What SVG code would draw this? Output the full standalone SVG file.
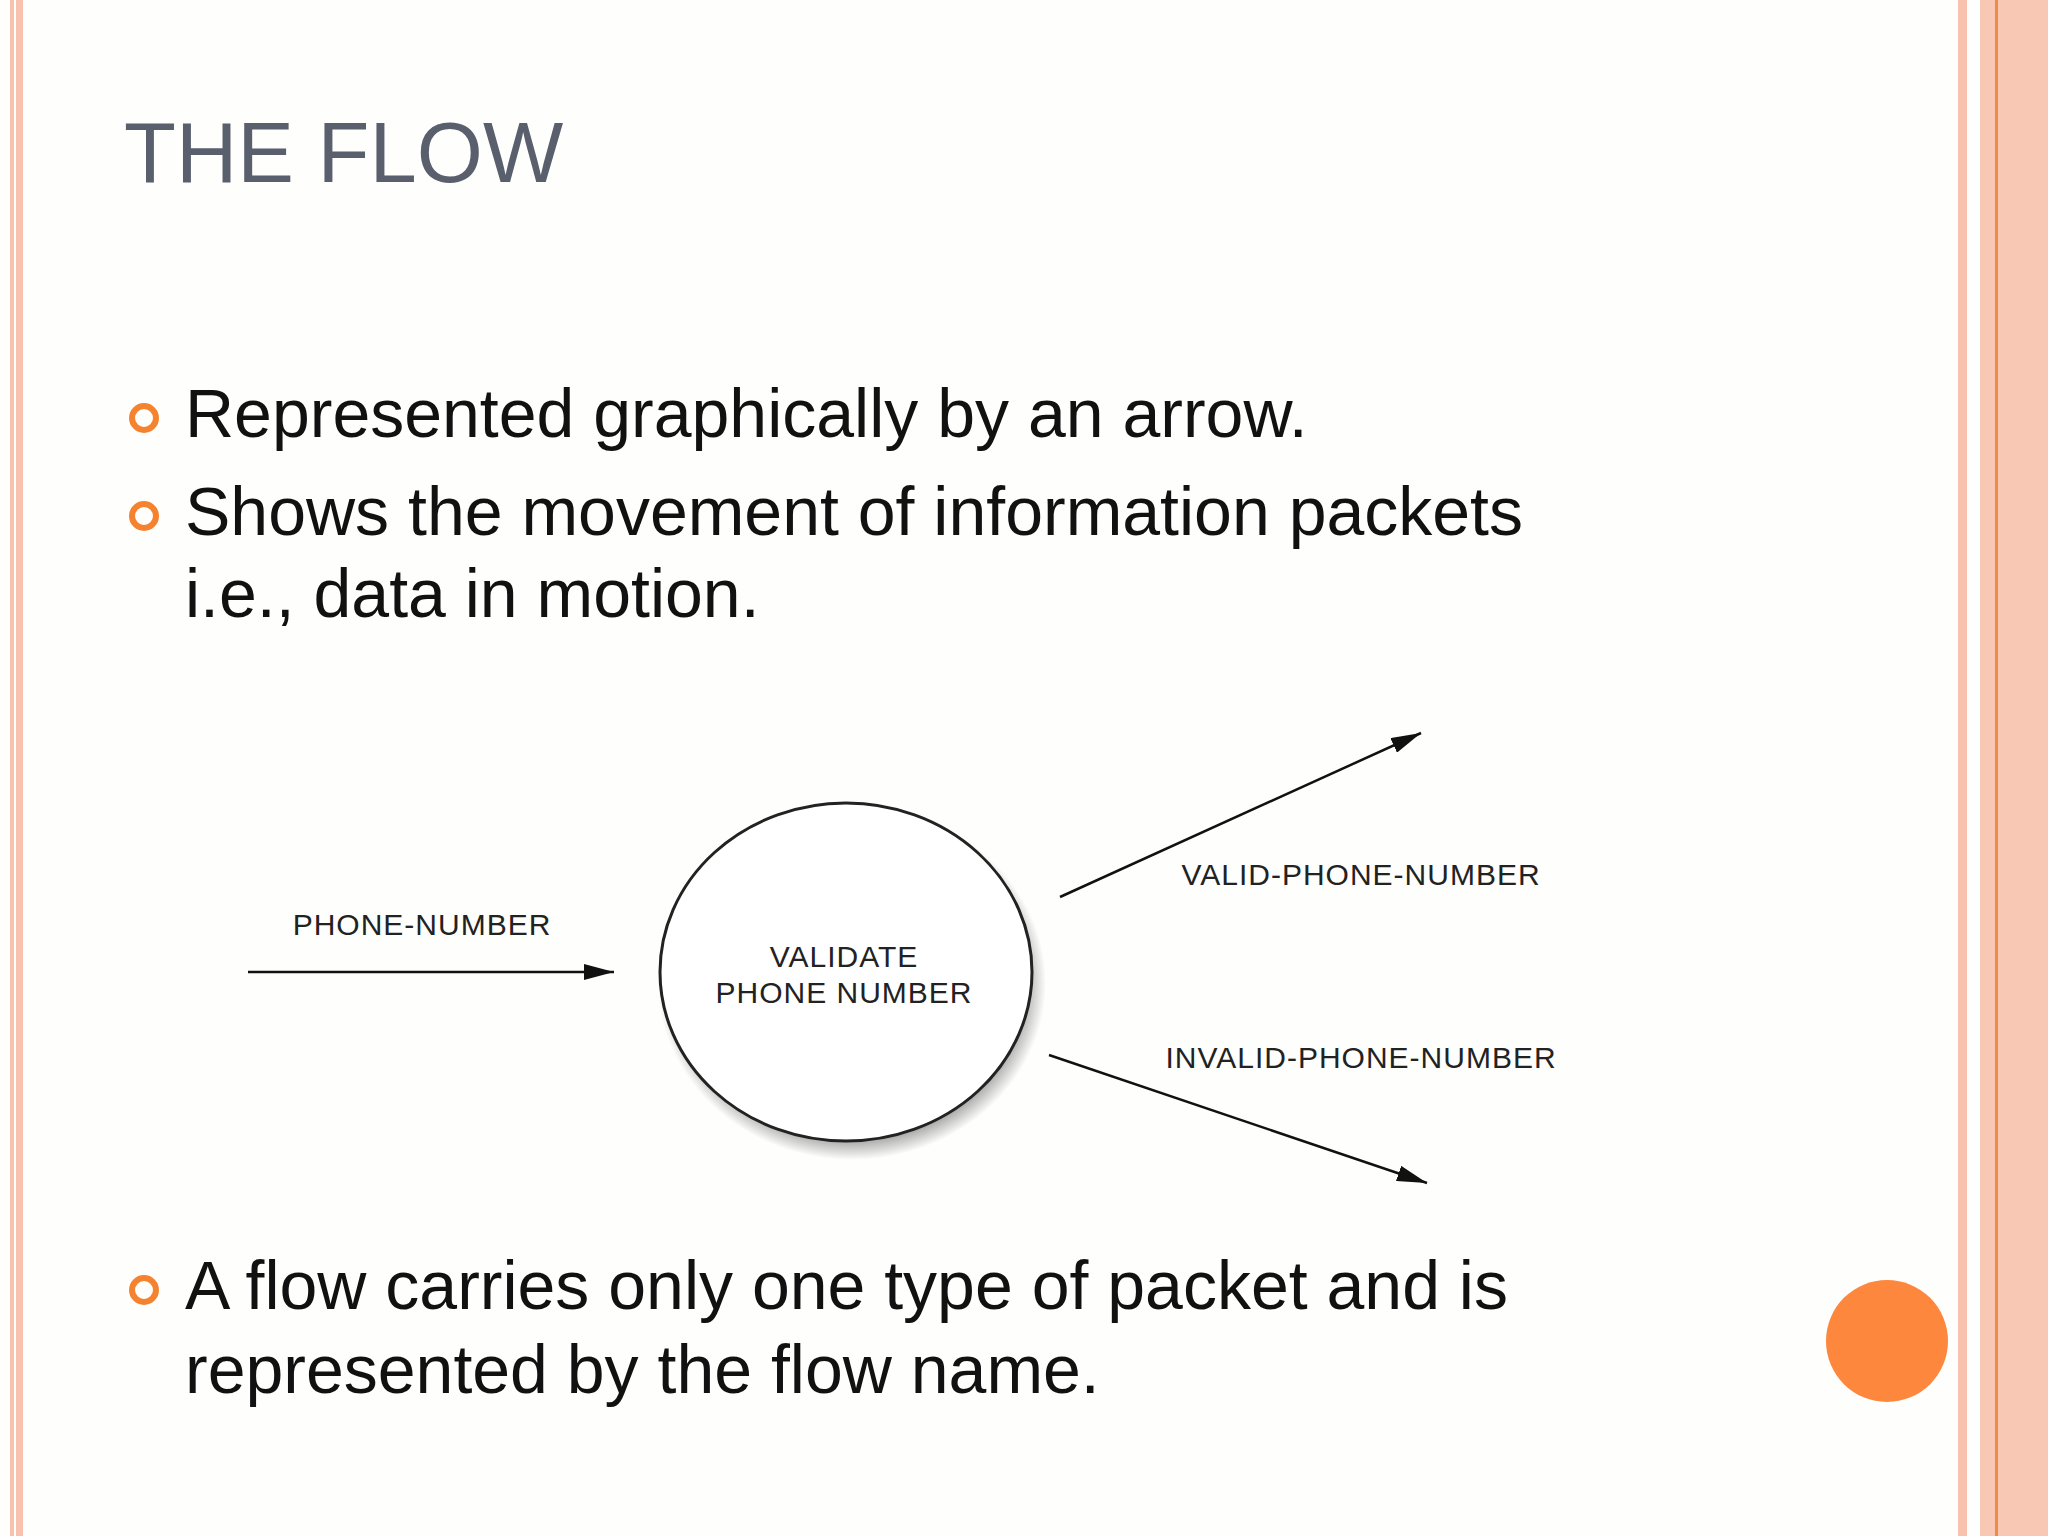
<svg xmlns="http://www.w3.org/2000/svg" width="2048" height="1536" viewBox="0 0 2048 1536">
<defs>
<style>
.t{font-family:"Liberation Sans",Arial,sans-serif;fill:#111}
.b{font-size:68px}
.d{font-size:30px;fill:#222;text-anchor:middle;letter-spacing:1px}
.bul{fill:none;stroke:#f5822f;stroke-width:6}
.ar{stroke:#111;stroke-width:2.5;fill:none}
</style>
<marker id="ah2" viewBox="0 0 10 10" refX="10" refY="5" markerWidth="30" markerHeight="16" markerUnits="userSpaceOnUse" orient="auto" preserveAspectRatio="none"><path d="M0,0 L10,5 L0,10 z" fill="#111"/></marker>
<radialGradient id="sh" cx="0.5" cy="0.5" r="0.5"><stop offset="0.85" stop-color="#000" stop-opacity="0.45"/><stop offset="1" stop-color="#000" stop-opacity="0"/></radialGradient>
</defs>
<rect width="2048" height="1536" fill="#fefefc"/>
<rect x="10" y="0" width="4" height="1536" fill="#f8c2ae"/>
<rect x="16" y="0" width="7" height="1536" fill="#f8c2ae"/>
<rect x="1958" y="0" width="9" height="1536" fill="#f8c2ae"/>
<rect x="1980" y="0" width="68" height="1536" fill="#f9c8b4"/>
<rect x="1995" y="0" width="3" height="1536" fill="#f08a45"/>
<text x="124" y="182" font-family="Liberation Sans,Arial,sans-serif" font-size="85" fill="#5a5f6e">THE FLOW</text>
<g id="bullets">
<circle class="bul" cx="144" cy="418" r="12"/>
<text class="t b" x="185" y="437">Represented graphically by an arrow.</text>
<circle class="bul" cx="144" cy="516" r="12"/>
<text class="t b" x="185" y="535">Shows the movement of information packets</text>
<text class="t b" x="185" y="617">i.e., data in motion.</text>
<circle class="bul" cx="144" cy="1290" r="12"/>
<text class="t b" x="185" y="1309">A flow carries only one type of packet and is</text>
<text class="t b" x="185" y="1393">represented by the flow name.</text>
</g>
<g id="process">
<ellipse cx="852" cy="983" rx="194" ry="177" fill="url(#sh)"/>
<ellipse cx="846" cy="972" rx="186" ry="169" fill="#fff" stroke="#222" stroke-width="3"/>
<text class="t d" x="844" y="967">VALIDATE</text>
<text class="t d" x="844" y="1003">PHONE NUMBER</text>
</g>
<g id="connectors">
<line class="ar" x1="248" y1="972" x2="614" y2="972" marker-end="url(#ah2)"/>
<line class="ar" x1="1060" y1="897" x2="1421" y2="733" marker-end="url(#ah2)"/>
<line class="ar" x1="1049" y1="1055" x2="1427" y2="1183" marker-end="url(#ah2)"/>
</g>
<g id="labels">
<text class="t d" x="422" y="935">PHONE-NUMBER</text>
<text class="t d" x="1361" y="885">VALID-PHONE-NUMBER</text>
<text class="t d" x="1361" y="1068">INVALID-PHONE-NUMBER</text>
</g>
<circle id="dot" cx="1887" cy="1341" r="61" fill="#fd873d"/>
</svg>
